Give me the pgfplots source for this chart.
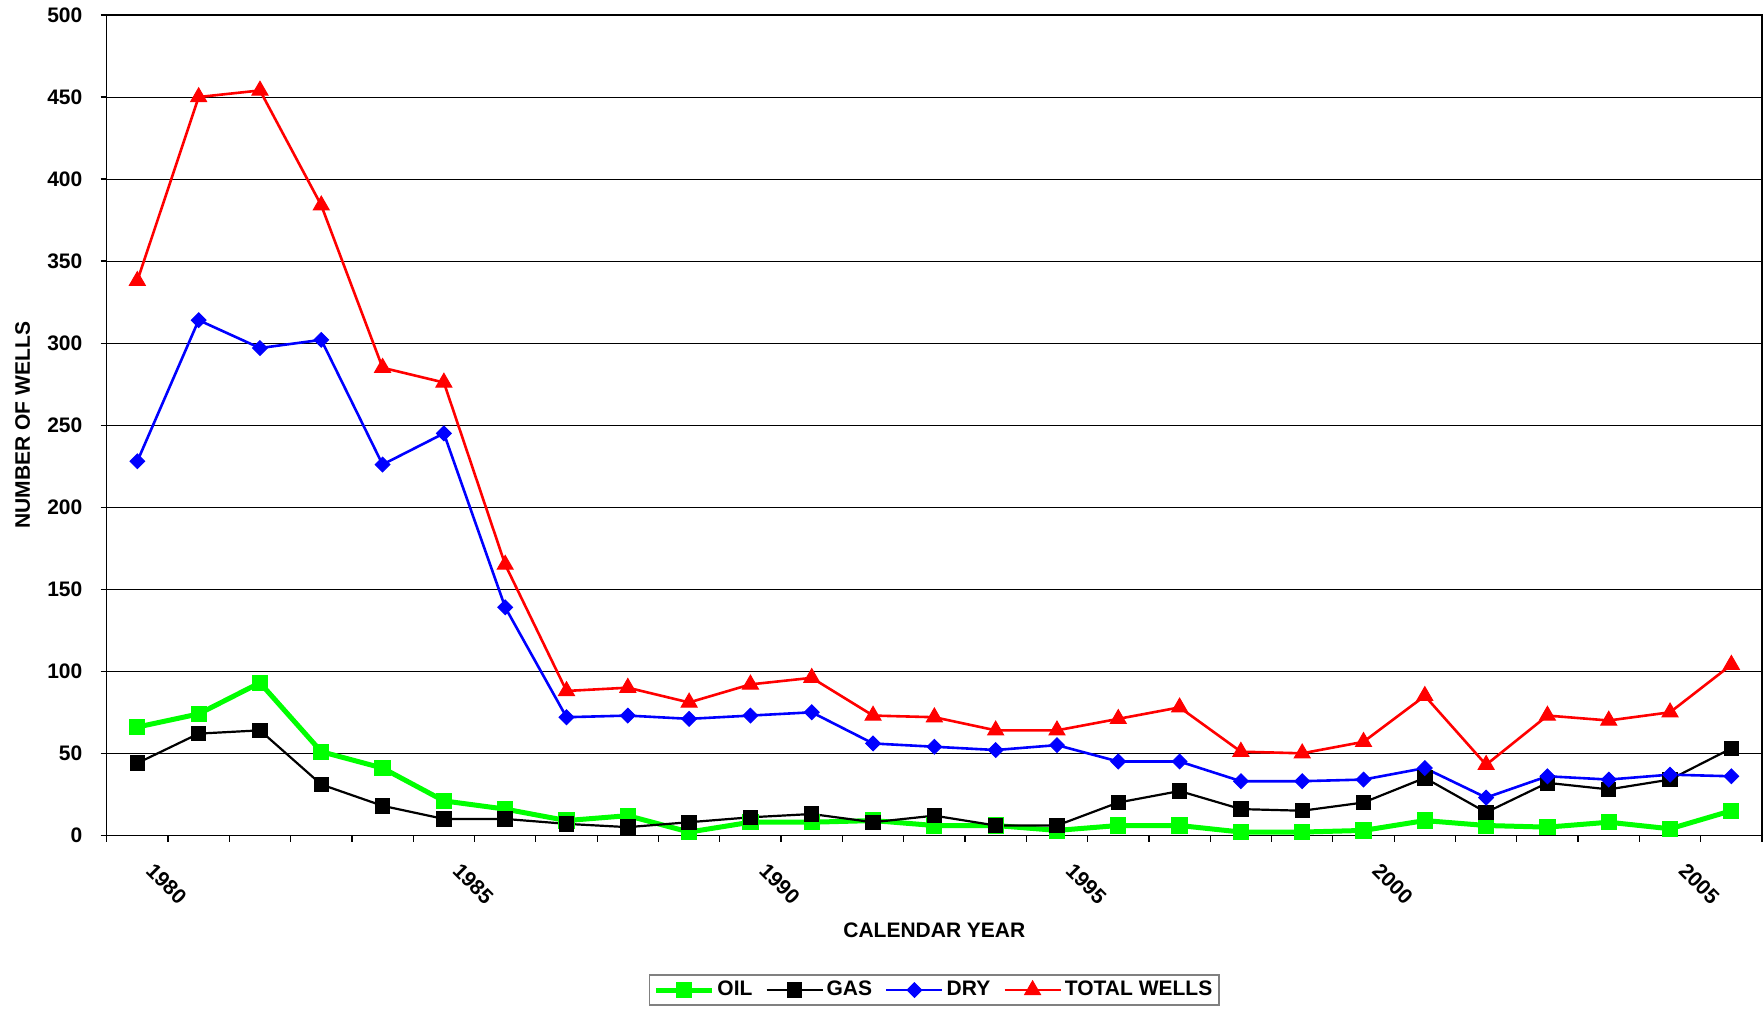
\documentclass[border=0pt]{standalone}
\usepackage{pgfplots}
\pgfplotsset{compat=1.18}
\usepackage{fontspec}
\setmainfont{Liberation Sans}
\usetikzlibrary{calc}

\definecolor{oilgreen}{RGB}{0,255,0}
\definecolor{dryblue}{RGB}{0,0,255}
\definecolor{totred}{RGB}{255,0,0}

% wells drilled per calendar year
\pgfplotstableread{
year oil gas dry total
1980 66 44 228 338
1981 74 62 314 450
1982 93 64 297 454
1983 51 31 302 384
1984 41 18 226 285
1985 21 10 245 276
1986 16 10 139 165
1987 9 7 72 88
1988 12 5 73 90
1989 2 8 71 81
1990 8 11 73 92
1991 8 13 75 96
1992 9 8 56 73
1993 6 12 54 72
1994 6 6 52 64
1995 3 6 55 64
1996 6 20 45 71
1997 6 27 45 78
1998 2 16 33 51
1999 2 15 33 50
2000 3 20 34 57
2001 9 35 41 85
2002 6 14 23 43
2003 5 32 36 73
2004 8 28 34 70
2005 4 34 37 75
2006 15 53 36 104
}\wells

\begin{document}
\begin{tikzpicture}
    \begin{axis}[
        scale only axis,
        width = 827.7pt,
        height = 410.2pt,
        xmin = 1979.5, xmax = 2006.5,
        ymin = 0, ymax = 500,
        xtick = {1980,1985,...,2005},
        minor xtick = {1979.5,1980.5,...,2006.5},
        ytick = {0,50,...,500},
        tick pos = left,
        ymajorgrids,
        grid style = {black, line width=0.5pt},
        tick align = outside,
        major x tick style = {draw=none},
        major tick length = 3pt,
        minor tick length = 3.3pt,
        tick style = {black, line width=0.6pt},
        axis line style = {black, line width=0.8pt},
        font = \fontsize{10.5}{12}\selectfont\bfseries,
        /pgf/number format/assume math mode=true,
        /pgf/number format/1000 sep={},
        xticklabel style = {xshift=9pt, rotate=-45, anchor=north west, inner sep=0pt},
        xticklabel shift = 10pt,
        yticklabel style = {anchor=east, inner sep=0pt},
        yticklabel shift = 9pt,
        xlabel = {CALENDAR YEAR},
        xlabel style = {at={(axis description cs:0.5,-0.1158)}, anchor=center},
        ylabel = {NUMBER OF WELLS},
        ylabel style = {at={(axis description cs:-0.0507,0.5)}, anchor=center},
        legend columns = 4,
        legend style = {at={(0.5,-0.1886)}, anchor=center, draw=gray,
            line width=0.8pt, font=\fontsize{10.5}{12}\selectfont\bfseries,
            inner xsep=2pt, inner ysep=1pt,
            nodes={inner xsep=1.5pt, inner ysep=2pt},
            /tikz/every even column/.append style={column sep=5pt}},
        legend image code/.code={
            \draw[mark repeat=2,mark phase=2,#1]
                plot coordinates {(0pt,0pt) (14pt,0pt) (28pt,0pt)};},
        every mark/.append style = {solid},
    ]

        \addplot[color=oilgreen, line width=2.5pt, mark=square*, mark size=3.8pt,
            mark options={line width=0.5pt}] table[x=year, y=oil] {\wells};
        \addlegendentry{OIL}

        \addplot[color=black, line width=1.1pt, mark=square*, mark size=3.6pt,
            mark options={line width=0.5pt}] table[x=year, y=gas] {\wells};
        \addlegendentry{GAS}

        \addplot[color=dryblue, line width=1.3pt, mark=square*, mark size=2.6pt,
            mark options={line width=0.5pt, rotate=45}] table[x=year, y=dry] {\wells};
        \addlegendentry{DRY}

        \addplot[color=totred, line width=1.3pt, mark=triangle*, mark size=4.6pt,
            mark options={line width=0.5pt}] table[x=year, y=total] {\wells};
        \addlegendentry{TOTAL WELLS}

        \coordinate (bl) at (rel axis cs:0,0);
        \coordinate (tr) at (rel axis cs:1,1);
    \end{axis}
    \pgfresetboundingbox
    \path[use as bounding box] ($(bl)+(-53.35pt,-86.35pt)$) rectangle ($(tr)+(1pt,7.5pt)$);
\end{tikzpicture}
\end{document}
